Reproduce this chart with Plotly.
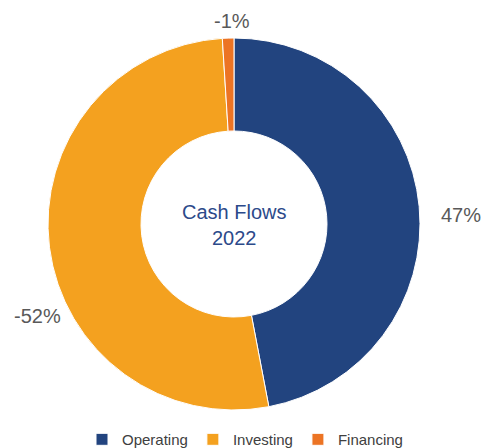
import plotly.graph_objects as go

categories = ["Operating", "Investing", "Financing"]
shares = [47, 52, 1]
signed_labels = ["47%", "-52%", "-1%"]
colors = ["#22447f", "#f4a11f", "#ec7424"]

W, H = 485, 448
# label anchor positions (pixels from top-left), kept apart from the data
label_px = [(461, 215), (37, 316), (231.5, 20.5)]

fig = go.Figure(go.Pie(
    labels=categories,
    values=shares,
    textinfo="none",
    hole=0.5,
    sort=False,
    direction="clockwise",
    rotation=0,
    marker=dict(colors=colors, line=dict(color="white", width=1)),
    domain=dict(x=[48 / W, 420 / W], y=[38 / H, 410 / H]),
    showlegend=True,
    hoverinfo="label+percent",
))

annotations = [dict(text="Cash Flows<br>2022", x=234 / W, y=1 - 224.5 / H, xref="paper", yref="paper",
                    showarrow=False, font=dict(size=20, color="#2c4a8a"))]
for txt, (px, py) in zip(signed_labels, label_px):
    annotations.append(dict(text=txt, x=px / W, y=1 - py / H, xref="paper", yref="paper",
                            showarrow=False, xanchor="center", yanchor="middle",
                            font=dict(size=20, color="#595959")))

fig.update_layout(
    width=W, height=H,
    margin=dict(l=0, r=0, t=0, b=0, autoexpand=False),
    paper_bgcolor="white",
    plot_bgcolor="white",
    font=dict(family="Liberation Sans, Arial, sans-serif"),
    legend=dict(orientation="h", x=82 / W, xanchor="left", y=-0.018, yanchor="bottom",
                font=dict(size=15, color="#404040"), itemwidth=30,
                tracegroupgap=0),
    annotations=annotations,
)

post = (
    "document.documentElement.style.margin='0';"
    "document.documentElement.style.overflow='hidden';"
    "document.body.style.margin='0';"
    "document.body.style.overflow='hidden';"
    "document.querySelectorAll('.plotly-graph-div').forEach(function(d){d.style.overflow='hidden';});"
)

fig.write_html("out.html", config={"displayModeBar": False}, post_script=post)
